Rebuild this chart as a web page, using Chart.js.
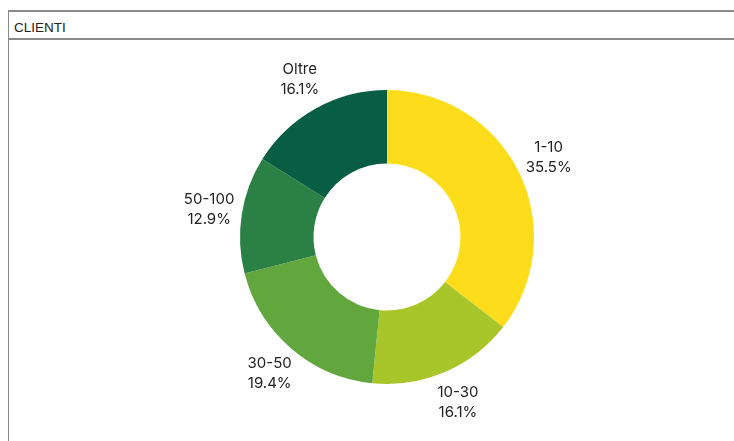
<!DOCTYPE html>
<html>
<head>
<meta charset="utf-8">
<script src="https://cdn.jsdelivr.net/npm/chart.js@4"></script>
<style>
  html, body { margin: 0; padding: 0; background: #fff; }
  body { width: 734px; height: 441px; position: relative; overflow: hidden; }
  .box { position: absolute; left: 8px; top: 10px; width: 740px; height: 450px;
         border-top: 2px solid #8a8a8a; border-left: 1px solid #8a8a8a; }
  .head { height: 26px; border-bottom: 2px solid #8a8a8a; font: 13.5px "Liberation Sans", Arial, sans-serif;
          color: #222; line-height: 32px; padding-left: 5px; }
  #c { position: absolute; left: 0; top: 0; }
</style>
</head>
<body>
<div class="box"><div class="head">CLIENTI</div></div>
<canvas id="c" width="734" height="441"></canvas>
<script>
const labels = ['1-10', '10-30', '30-50', '50-100', 'Oltre'];
const values = [35.5, 16.1, 19.4, 12.9, 16.1];
const colors = ['#FDDC1C', '#A8C62A', '#62A63E', '#2A8045', '#075E42'];

// labels sit outside each slice, two lines, centred on the slice's mid angle
const outsideLabels = {
  id: 'outsideLabels',
  afterDatasetsDraw(chart) {
    const ctx = chart.ctx;
    const meta = chart.getDatasetMeta(0);
    ctx.save();
    ctx.font = '15px Inter, sans-serif';
    ctx.fillStyle = '#222';
    ctx.textAlign = 'center';
    ctx.textBaseline = 'middle';
    meta.data.forEach((arc, i) => {
      const mid = (arc.startAngle + arc.endAngle) / 2;
      const r = arc.outerRadius + 33;
      const x = arc.x + Math.cos(mid) * r;
      const y = arc.y + Math.sin(mid) * r;
      ctx.fillText(labels[i], x, y - 10);
      ctx.fillText(values[i].toFixed(1) + '%', x, y + 10);
    });
    ctx.restore();
  }
};

new Chart(document.getElementById('c').getContext('2d'), {
  type: 'doughnut',
  data: {
    labels,
    datasets: [{
      data: values,
      backgroundColor: colors,
      borderWidth: 0,
    }],
  },
  options: {
    responsive: false,
    animation: false,
    cutout: '50%',
    layout: { padding: { left: 240, right: 200, top: 90, bottom: 57 } },
    plugins: { legend: { display: false }, tooltip: { enabled: false } },
  },
  plugins: [outsideLabels],
});
</script>
</body>
</html>
